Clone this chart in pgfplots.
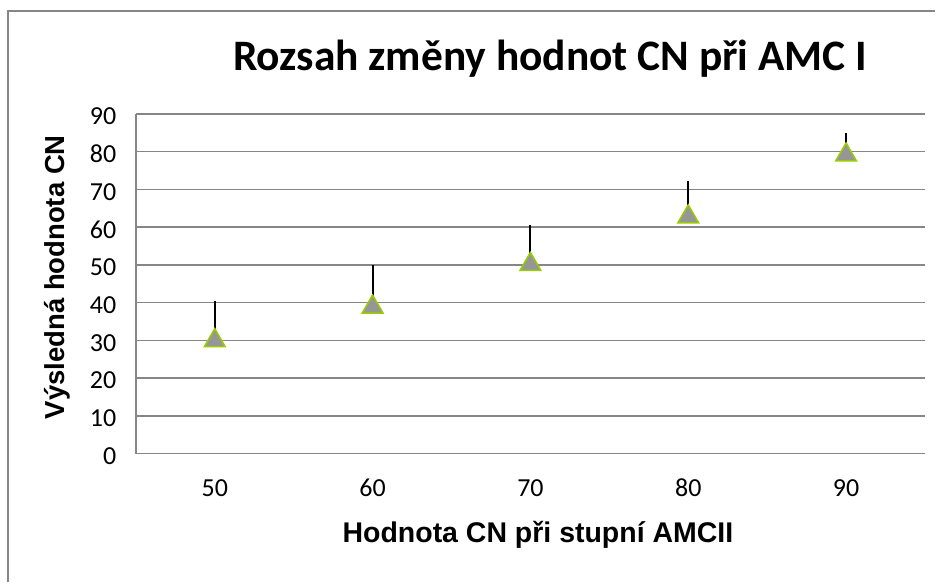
\documentclass[border=0pt]{standalone}
\usepackage{fontspec}
\setmainfont{Carlito}
\newfontfamily\arial{Liberation Sans}
\usepackage{pgfplots}
\pgfplotsset{compat=1.18}
\definecolor{gridg}{RGB}{134,134,134}
\definecolor{mfill}{RGB}{150,150,150}
\definecolor{medge}{RGB}{153,204,0}
\newcommand\tickfont{\fontsize{26}{28}\selectfont}
\begin{document}
\begin{tikzpicture}[x=1pt,y=1pt]
\path[fill=white] (0,0) rectangle (936,583);
\draw[gridg, line width=2pt] (8,0) -- (8,572) -- (936,572);
\begin{axis}[
  at={(136pt,129pt)}, anchor=south west,
  width=790pt, height=340pt, scale only axis,
  xmin=0.5, xmax=5.5, ymin=0, ymax=90,
  xtick={1,2,3,4,5}, xticklabels={50,60,70,80,90},
  ytick={0,10,...,90},
  axis lines=left,
  axis line style={gridg, line width=1.5pt, -},
  ymajorgrids, grid style={gridg, line width=1.5pt},
  xtick style={draw=none},
  ytick style={draw=none},
  /pgf/number format/assume math mode=true,
  xticklabel style={font=\tickfont, anchor=north, yshift=-20pt},
  yticklabel style={font=\tickfont, anchor=east, xshift=-14pt, yshift=-2.5pt},
  title={Rozsah změny hodnot CN při AMC I},
  title style={at={(0.525,1.109)}, anchor=base, font=\fontsize{43.5}{44}\selectfont\bfseries},
  xlabel={Hodnota CN při stupní AMCII},
  xlabel style={at={(0.5095,-0.238)}, anchor=center, font=\arial\bfseries\fontsize{28.5}{29}\selectfont},
  ylabel={Výsledná hodnota CN},
  ylabel style={at={(-0.1,0.519)}, anchor=center, font=\arial\bfseries\fontsize{27.5}{28}\selectfont},
  clip=false,
]
\addplot[only marks, mark=none, forget plot,
  error bars/.cd, y dir=plus, y explicit,
  error bar style={black, line width=2pt}, error mark=none]
  coordinates {
  (1,30.7) +- (0,9.7)
  (2,39.6) +- (0,10.3)
  (3,50.9) +- (0,9.7)
  (4,63.5) +- (0,8.7)
  (5,79.9) +- (0,5.1)
  };
\addplot[only marks, mark=triangle*, mark size=12pt,
  mark options={fill=mfill, draw=medge, line width=1.5pt, yshift=-3pt}]
  coordinates {
  (1,30.7)
  (2,39.6)
  (3,50.9)
  (4,63.5)
  (5,79.9)
  };
\end{axis}
\end{tikzpicture}
\end{document}
